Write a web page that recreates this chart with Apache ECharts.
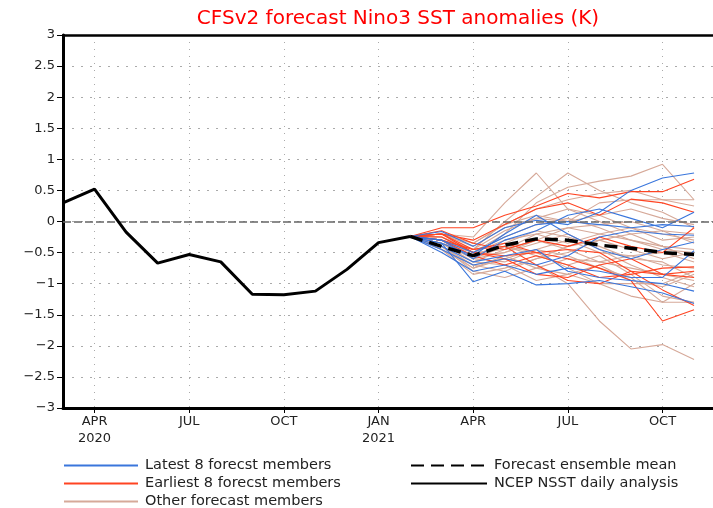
<!DOCTYPE html>
<html>
<head>
<meta charset="utf-8">
<script src="https://cdn.jsdelivr.net/npm/echarts@6/dist/echarts.min.js"></script>
<style>html,body{margin:0;padding:0;background:#fff}#c{width:713px;height:508px}</style>
</head>
<body>
<div id="c"></div>
<script>
// x = months since March 2020
const tickValues = [1, 4, 7, 10, 13, 16, 19];
const tickLabels = ['APR\n2020', 'JUL', 'OCT', 'JAN\n2021', 'APR', 'JUL', 'OCT'];

const obsX = [0,1,2,3,4,5,6,7,8,9,10,11];
const obsVals = [0.3,0.52,-0.17,-0.67,-0.53,-0.65,-1.17,-1.18,-1.12,-0.77,-0.34,-0.24];

const fcX = [11,12,13,14,15,16,17,18,19,20];
const meanVals = [-0.24,-0.4,-0.55,-0.38,-0.28,-0.3,-0.38,-0.43,-0.5,-0.53];

const latestMembers = [
  [-0.24,-0.16,-0.4,-0.1,0.02,-0.05,0.15,0.5,0.7,0.78],
  [-0.24,-0.35,-0.97,-0.8,-1.02,-1.0,-0.95,-1.05,-1.15,-1.32],
  [-0.24,-0.3,-0.6,-0.3,-0.15,0.1,0.2,0.05,-0.1,0.15],
  [-0.24,-0.4,-0.65,-0.55,-0.45,-0.8,-0.9,-0.95,-1.0,-1.12],
  [-0.24,-0.3,-0.5,-0.25,-0.05,0.0,-0.05,-0.1,-0.05,-0.08],
  [-0.24,-0.45,-0.7,-0.6,-0.7,-0.55,-0.25,-0.15,-0.2,-0.22],
  [-0.24,-0.35,-0.55,-0.2,0.1,-0.2,-0.45,-0.6,-0.45,-0.33],
  [-0.24,-0.5,-0.8,-0.7,-0.85,-0.75,-0.8,-0.9,-0.9,-0.47]
];
const earliestMembers = [
  [-0.24,-0.1,-0.1,0.1,0.25,0.45,0.38,0.48,0.48,0.68],
  [-0.24,-0.2,-0.3,-0.05,0.2,0.3,0.1,0.36,0.3,0.15],
  [-0.24,-0.2,-0.5,-0.55,-0.5,-0.6,-0.75,-0.95,-1.6,-1.42],
  [-0.24,-0.3,-0.45,-0.35,-0.5,-0.45,-0.5,-0.8,-1.1,-1.35],
  [-0.24,-0.25,-0.5,-0.6,-0.85,-0.9,-0.7,-0.6,-0.85,-0.9],
  [-0.24,-0.15,-0.35,-0.45,-0.3,-0.4,-0.25,-0.4,-0.5,-0.1],
  [-0.24,-0.3,-0.55,-0.7,-0.55,-0.7,-0.9,-0.85,-0.75,-0.73],
  [-0.24,-0.2,-0.45,-0.4,-0.7,-0.95,-1.0,-0.8,-0.85,-0.8]
];
const otherMembers = [
  [-0.24,-0.2,-0.25,0.3,0.78,0.2,0.1,-0.1,-0.2,-0.3],
  [-0.24,-0.3,-0.45,0.0,0.4,0.78,0.5,0.3,0.15,-0.1],
  [-0.24,-0.35,-0.5,-0.2,0.3,0.55,0.65,0.73,0.92,0.35],
  [-0.24,-0.4,-0.7,-0.6,-0.7,-1.0,-1.6,-2.05,-1.98,-2.22],
  [-0.24,-0.3,-0.6,-0.5,-0.35,-0.2,-0.45,-0.7,-0.9,-1.05],
  [-0.24,-0.45,-0.85,-0.75,-0.6,-0.4,-0.3,-0.45,-0.6,-0.5],
  [-0.24,-0.2,-0.35,-0.05,0.2,0.35,0.45,0.5,0.35,0.25],
  [-0.24,-0.35,-0.65,-0.45,-0.2,-0.1,-0.2,-0.3,-0.4,-0.45],
  [-0.24,-0.4,-0.8,-0.9,-0.75,-0.6,-0.65,-0.75,-0.85,-0.95],
  [-0.24,-0.3,-0.55,-0.4,-0.5,-0.75,-1.0,-1.2,-1.3,-1.3],
  [-0.24,-0.25,-0.45,-0.15,0.05,0.0,0.1,0.2,0.05,-0.05],
  [-0.24,-0.35,-0.6,-0.65,-0.45,-0.3,-0.5,-0.55,-0.5,-0.65],
  [-0.24,-0.3,-0.5,-0.3,-0.2,-0.35,-0.2,-0.1,-0.3,-0.25],
  [-0.24,-0.45,-0.75,-0.55,-0.75,-0.85,-0.7,-0.95,-1.05,-0.85],
  [-0.24,-0.2,-0.4,-0.1,0.05,0.2,0.0,-0.2,-0.4,-0.6],
  [-0.24,-0.35,-0.65,-0.7,-0.95,-0.85,-1.0,-1.0,-1.0,-0.8],
  [-0.24,-0.3,-0.55,-0.5,-0.3,-0.45,-0.65,-0.55,-0.7,-0.75],
  [-0.24,-0.4,-0.7,-0.8,-0.6,-0.5,-0.3,-0.2,-0.15,-0.35],
  [-0.24,-0.25,-0.5,-0.25,-0.05,0.05,-0.1,-0.3,-0.45,-0.5],
  [-0.24,-0.3,-0.6,-0.4,-0.55,-0.7,-0.55,-0.85,-1.2,-1.3],
  [-0.24,-0.35,-0.55,-0.35,-0.15,-0.25,-0.4,-0.6,-0.65,-0.9],
  [-0.24,-0.4,-0.75,-0.6,-0.45,-0.55,-0.75,-0.9,-1.3,-1.0],
  [-0.24,-0.2,-0.35,-0.05,0.1,0.0,0.3,0.35,0.35,0.35],
  [-0.24,-0.3,-0.5,-0.45,-0.3,-0.1,-0.05,0.0,-0.15,-0.2]
];

const NAME_LATEST = 'Latest 8 forecst members';
const NAME_EARLIEST = 'Earliest 8 forecst members';
const NAME_OTHER = 'Other forecast members';
const NAME_MEAN = 'Forecast ensemble mean';
const NAME_OBS = 'NCEP NSST daily analysis';

const COL_BLUE = '#3a76dc';
const COL_RED = '#ff4422';
const COL_TAN = '#d6a999';
const FONT = '"DejaVu Sans", sans-serif';

function pairs(xs, vs) { return vs.map((v, i) => [xs[i], v]); }
function memberSeries(list, name, color) {
  return list.map(vals => ({
    name: name, type: 'line', data: pairs(fcX, vals), symbol: 'none',
    lineStyle: { color: color, width: 1.1 }, itemStyle: { color: color },
    silent: true, animation: false
  }));
}

const series = []
  .concat(memberSeries(otherMembers, NAME_OTHER, COL_TAN))
  .concat(memberSeries(earliestMembers, NAME_EARLIEST, COL_RED))
  .concat(memberSeries(latestMembers, NAME_LATEST, COL_BLUE));

series.push({
  name: NAME_MEAN, type: 'line', data: pairs(fcX, meanVals), symbol: 'none',
  lineStyle: { color: '#000', width: 3.5, type: [13, 7] }, itemStyle: { color: '#000' },
  animation: false, z: 5
});
series.push({
  name: NAME_OBS, type: 'line', data: pairs(obsX, obsVals), symbol: 'none',
  lineStyle: { color: '#000', width: 3 }, itemStyle: { color: '#000' },
  animation: false, z: 5,
  markLine: {
    silent: true, symbol: 'none', label: { show: false },
    lineStyle: { color: '#666', type: [8, 3], width: 1.5 },
    data: [{ yAxis: 0 }], animation: false
  }
});

const legendCommon = {
  orient: 'vertical', itemHeight: 10, itemGap: 3, padding: 0, height: 80, selectedMode: false,
  itemStyle: { opacity: 0, color: 'transparent', borderColor: 'transparent', borderWidth: 0 },
  textStyle: { color: '#222', fontSize: 14.5, fontFamily: FONT, lineHeight: 14, padding: [0, 0, 0, 2] }
};

const chart = echarts.init(document.getElementById('c'), null, { renderer: 'canvas' });
chart.setOption({
  animation: false,
  backgroundColor: '#fff',
  title: {
    text: 'CFSv2 forecast Nino3 SST anomalies (K)',
    left: 393, top: 4, textAlign: 'center',
    textStyle: { color: '#ff0000', fontSize: 20, fontWeight: 'normal', fontFamily: FONT }
  },
  grid: { left: 63, right: 0, top: 35, bottom: 100, show: false },
  xAxis: [{
    type: 'value', min: 0, max: 20.6, interval: 1,
    axisLine: { show: true, onZero: false, lineStyle: { color: '#000', width: 3 } },
    axisTick: { show: true, length: 5, customValues: tickValues, lineStyle: { color: '#000' } },
    axisLabel: {
      customValues: tickValues, color: '#222', fontSize: 13, fontFamily: FONT, lineHeight: 17, margin: 5,
      formatter: v => { const i = tickValues.indexOf(Math.round(v)); return i >= 0 ? tickLabels[i] : ''; }
    },
    splitLine: { show: true, lineStyle: { color: '#aaa', type: [1, 6], width: 1 } }
  }, {
    type: 'value', min: 0, max: 20.6, position: 'top',
    axisLine: { show: true, onZero: false, lineStyle: { color: '#000', width: 2.5 } },
    axisTick: { show: false }, axisLabel: { show: false }, splitLine: { show: false }
  }],
  yAxis: {
    type: 'value', min: -3, max: 3, interval: 0.5,
    axisLine: { show: true, onZero: false, lineStyle: { color: '#000', width: 3 } },
    axisTick: { show: true, length: 6, lineStyle: { color: '#000' } },
    axisLabel: {
      color: '#222', fontSize: 13, fontFamily: FONT, margin: 8,
      formatter: v => String(v).replace('-', '\u2212')
    },
    splitLine: { show: true, lineStyle: { color: '#aaa', type: [2, 7], width: 1 } }
  },
  legend: [
    Object.assign({}, legendCommon, {
      left: 63, top: 458, itemWidth: 74,
      data: [NAME_LATEST, NAME_EARLIEST, NAME_OTHER]
    }),
    Object.assign({}, legendCommon, {
      left: 410, top: 458, itemWidth: 76,
      data: [NAME_MEAN, NAME_OBS]
    })
  ],
  series: series
});
</script>
</body>
</html>
